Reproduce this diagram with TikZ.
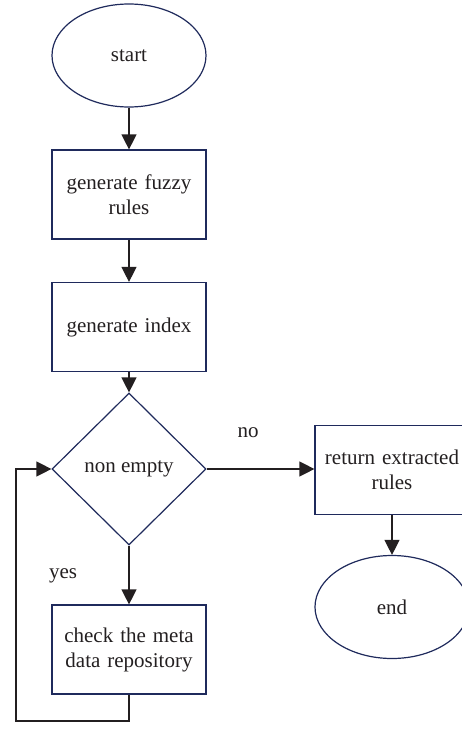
\documentclass[tikz,border=0pt]{standalone}
\usepackage{fontspec}
\setmainfont{Liberation Serif}
\usetikzlibrary{arrows.meta,shapes.geometric,positioning}
\definecolor{edgeblue}{RGB}{31,42,92}
\definecolor{linegray}{RGB}{35,31,32}
\tikzstyle{every node}=[font=\fontsize{21}{25}\selectfont, text=linegray]
\tikzset{
    terminal/.style={
                draw=edgeblue,
                line width=1.2pt,
                ellipse,
                inner sep=0pt,
                minimum width=154pt,
                minimum height=103pt
            },
        process/.style={
                draw=edgeblue,
                line width=1.2pt,
                rectangle,
                text centered,
                text width=150pt,
                inner sep=0pt,
                minimum width=154pt,
                minimum height=89pt
            },
        decision/.style={
                draw=edgeblue,
                line width=1.2pt,
                diamond,
                aspect=1,
                inner sep=0pt,
                minimum width=154pt,
                minimum height=152pt
            },
        flow/.style={
                draw=linegray,
                line width=1.3pt,
                -{Triangle[length=15pt,width=15pt]}
            },
        label/.style={
                inner sep=0pt
            }
}

\begin{document}
\begin{tikzpicture}[x=1pt,y=-1pt]
  \useasboundingbox (0,0) rectangle (462,731);
  % main column
  \node[terminal] (start) at (129,55.5) {start};
  \node[process] (fuzzy) at (129,194.5) {generate fuzzy\\rules};
  \node[process] (index) at (129,327) {generate index};
  \node[decision] (cond) at (129,469) {non empty};
  \node[process] (check) at (129,649.5) {check the meta\\data repository};
  % right column
  \node[process] (extract) at (392,470) {return extracted\\rules};
  \node[terminal] (end) at (392,607) {end};
  % branch labels
  \node[label] (yes) at (63,576) {yes};
  \node[label] (no) at (248,433) {no};
  \coordinate (loop) at (16,721);
  % connectors
  \draw[flow] (start) -- (fuzzy);
  \draw[flow] (fuzzy) -- (index);
  \draw[flow] (index) -- (cond);
  \draw[flow] (cond) -- (check);
  \draw[flow] (cond.east) -- (extract.west |- cond.east);
  \draw[flow] (extract) -- (end);
  \draw[flow] (check.south) |- (loop) |- (cond.west);
\end{tikzpicture}
\end{document}
